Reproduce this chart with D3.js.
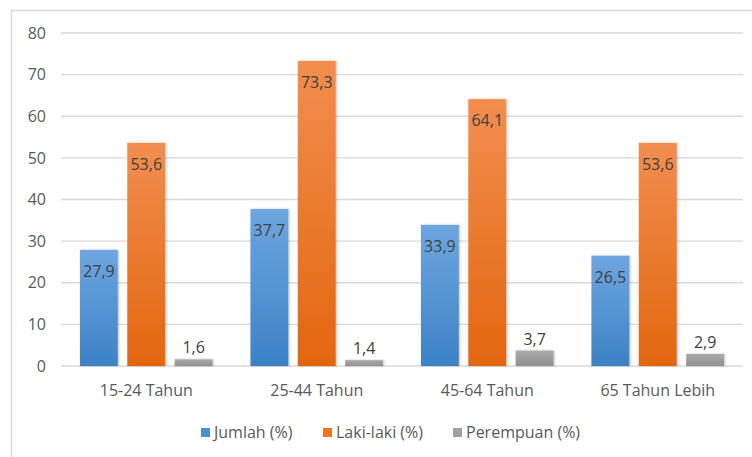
<!DOCTYPE html>
<html>
<head>
<meta charset="utf-8">
<script src="https://cdn.jsdelivr.net/npm/d3@7"></script>
<style>
  body { margin: 0; background: #fff; }
  svg text { font-family: "Open Sans", "Noto Sans", sans-serif; }
</style>
</head>
<body>
<svg id="chart" width="752" height="457"></svg>
<script>
var categories = ['15-24 Tahun', '25-44 Tahun', '45-64 Tahun', '65 Tahun Lebih'];
var seriesNames = ['Jumlah (%)', 'Laki-laki (%)', 'Perempuan (%)'];
var jumlah = [27.9, 37.7, 33.9, 26.5];
var lakiLaki = [53.6, 73.3, 64.1, 53.6];
var perempuan = [1.6, 1.4, 3.7, 2.9];
var yTicks = [0, 10, 20, 30, 40, 50, 60, 70, 80];

var seriesValues = [jumlah, lakiLaki, perempuan];
var colorsTop = ['#6ea6e0', '#f28e50', '#ababab'];
var colorsBottom = ['#3d82c6', '#e3660f', '#8f8f8f'];
var legendColors = ['#4a8fd6', '#ee7524', '#a0a0a0'];

var svg = d3.select('#chart');

// outer frame
svg.append('rect')
    .attr('x', 11.5).attr('y', 10.5)
    .attr('width', 760).attr('height', 470)
    .attr('fill', 'none')
    .attr('stroke', '#d9d9d9')
    .attr('stroke-width', 1.5);

var defs = svg.append('defs');
seriesNames.forEach(function(s, i) {
  var g = defs.append('linearGradient')
      .attr('id', 'grad' + i)
      .attr('x1', 0).attr('y1', 0).attr('x2', 0).attr('y2', 1);
  g.append('stop').attr('offset', '0%').attr('stop-color', colorsTop[i]);
  g.append('stop').attr('offset', '100%').attr('stop-color', colorsBottom[i]);
});
var f = defs.append('filter').attr('id', 'shadow')
    .attr('x', '-20%').attr('y', '-20%').attr('width', '140%').attr('height', '140%');
f.append('feDropShadow')
    .attr('dx', 1).attr('dy', 0).attr('stdDeviation', 1.2)
    .attr('flood-color', '#000').attr('flood-opacity', 0.25);

var x0 = d3.scaleBand()
    .domain(categories)
    .range([61, 743])
    .paddingInner(0)
    .paddingOuter(0);

var y = d3.scaleLinear()
    .domain([0, 80])
    .range([366, 33]);

var x1 = d3.scaleBand()
    .domain(d3.range(seriesNames.length))
    .range([0, x0.bandwidth()])
    .paddingInner(0.2)
    .paddingOuter(0.4);

// grid
svg.append('g')
  .selectAll('line')
  .data(yTicks)
  .join('line')
    .attr('x1', 61).attr('x2', 743)
    .attr('y1', function(d) { return y(d); })
    .attr('y2', function(d) { return y(d); })
    .attr('stroke', '#d9d9d9')
    .attr('stroke-width', 1.3);

// y axis labels
var yAxis = d3.axisLeft(y).tickValues(yTicks).tickSize(0).tickPadding(0);
var yg = svg.append('g')
    .attr('transform', 'translate(46,0)')
    .call(yAxis);
yg.select('.domain').remove();
yg.selectAll('text')
    .attr('fill', '#595959')
    .style('font-size', '16px');

// bars
var groups = svg.append('g')
  .selectAll('g')
  .data(categories)
  .join('g')
    .attr('transform', function(d) { return 'translate(' + x0(d) + ',0)'; });

groups.each(function(cat, ci) {
  var g = d3.select(this);
  seriesValues.forEach(function(vals, si) {
    var v = vals[ci];
    g.append('rect')
        .attr('x', x1(si))
        .attr('y', y(v))
        .attr('width', x1.bandwidth())
        .attr('height', y(0) - y(v))
        .attr('fill', 'url(#grad' + si + ')')
        .attr('filter', 'url(#shadow)');
    var inside = si < 2;
    g.append('text')
        .attr('x', x1(si) + x1.bandwidth() / 2)
        .attr('y', inside ? y(v) + 27 : y(v) - 6)
        .attr('text-anchor', 'middle')
        .attr('fill', '#404040')
        .style('font-size', '16px')
        .text(String(v).replace('.', ','));
  });
});

// x axis labels
var xAxis = d3.axisBottom(x0).tickSize(0).tickPadding(0);
var xg = svg.append('g')
    .attr('transform', 'translate(0,' + 385 + ')')
    .call(xAxis);
xg.select('.domain').remove();
xg.selectAll('text')
    .attr('fill', '#595959')
    .style('font-size', '16px');

// legend
var legendX = [201, 323, 453];
var legend = svg.append('g');
seriesNames.forEach(function(s, i) {
  legend.append('rect')
      .attr('x', legendX[i]).attr('y', 428)
      .attr('width', 9).attr('height', 9)
      .attr('fill', legendColors[i]);
  legend.append('text')
      .attr('x', legendX[i] + 13).attr('y', 438)
      .attr('fill', '#595959')
      .style('font-size', '16px')
      .text(s);
});
</script>
</body>
</html>
